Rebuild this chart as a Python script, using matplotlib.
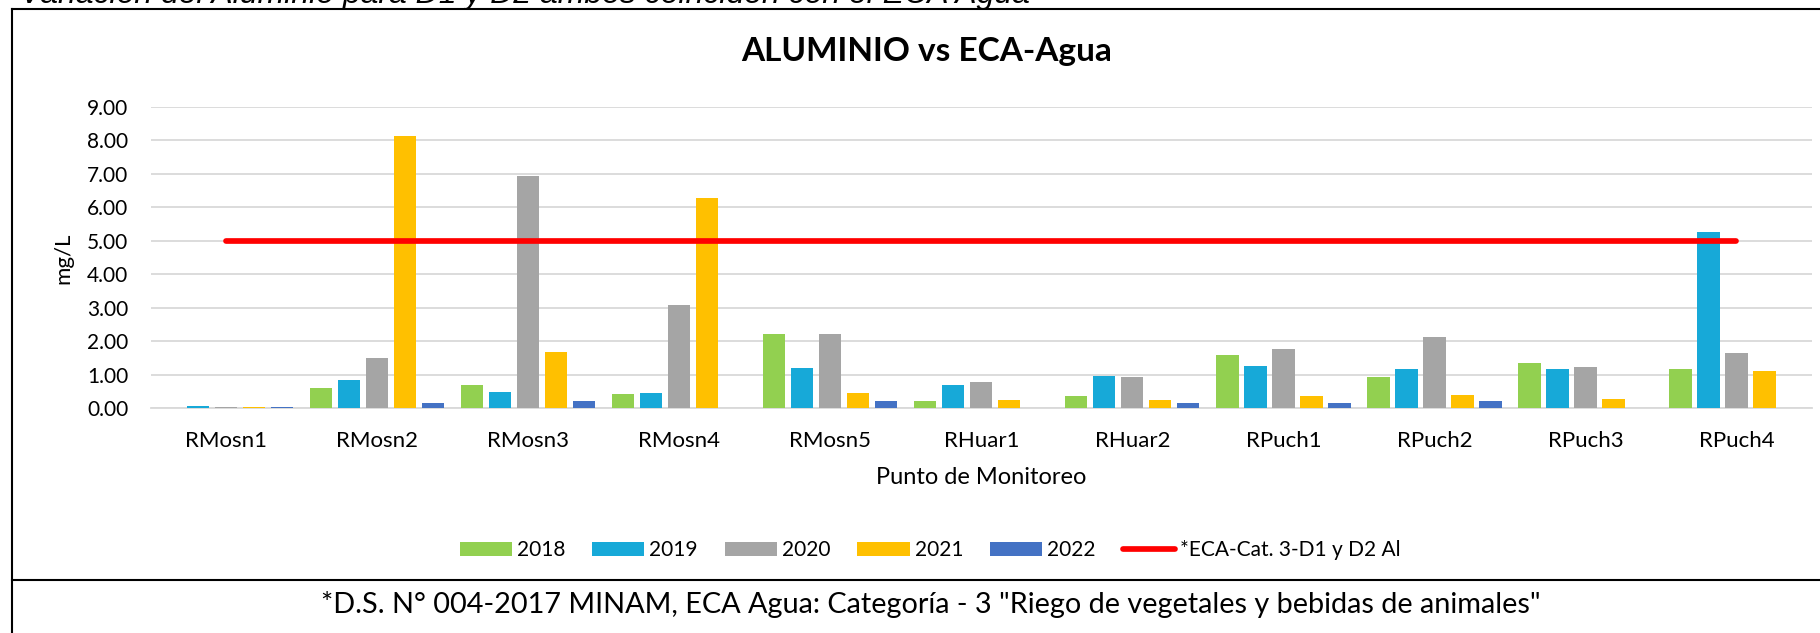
import matplotlib
matplotlib.use("Agg")
import matplotlib.pyplot as plt
from matplotlib.lines import Line2D
from matplotlib.patches import Patch
import numpy as np

categories = ["RMosn1", "RMosn2", "RMosn3", "RMosn4", "RMosn5", "RHuar1",
              "RHuar2", "RPuch1", "RPuch2", "RPuch3", "RPuch4"]
years = ["2018", "2019", "2020", "2021", "2022"]
v2018 = [0.00, 0.60, 0.71, 0.43, 2.23, 0.23, 0.37, 1.59, 0.93, 1.34, 1.18]
v2019 = [0.07, 0.83, 0.50, 0.45, 1.20, 0.71, 0.95, 1.26, 1.18, 1.18, 5.27]
v2020 = [0.03, 1.49, 6.94, 3.07, 2.23, 0.79, 0.93, 1.78, 2.14, 1.24, 1.66]
v2021 = [0.03, 8.13, 1.69, 6.27, 0.45, 0.25, 0.25, 0.37, 0.39, 0.27, 1.10]
v2022 = [0.03, 0.15, 0.21, 0.00, 0.23, 0.00, 0.15, 0.15, 0.21, 0.00, 0.00]
eca = [5.0] * len(categories)
eca_label = "*ECA-Cat. 3-D1 y D2 Al"
yticks = [0, 1, 2, 3, 4, 5, 6, 7, 8, 9]

series = [v2018, v2019, v2020, v2021, v2022]
colors = ["#92D050", "#17A9D8", "#A5A5A5", "#FFC000", "#4472C4"]

W, H = 1820, 633
fig = plt.figure(figsize=(W / 100, H / 100), dpi=100)
plt.rcParams['font.family'] = ['Lato', 'DejaVu Sans']

ax = fig.add_axes([150.7 / W, 1 - 408.3 / H, (1812 - 150.7) / W, (408.3 - 106.7) / H])
x = np.arange(len(categories))
step = 0.1854
bw = 0.147
for j, (vals, c) in enumerate(zip(series, colors)):
    ax.bar(x + (j - 2) * step, vals, width=bw, color=c, zorder=3, linewidth=0)
ax.plot(x, eca, color="#FF0000", lw=4.1, solid_capstyle="round", zorder=4)

ax.set_xlim(-0.5, len(categories) - 0.5)
ax.set_ylim(0, 9)
ax.set_yticks(yticks)
ax.set_yticklabels([f"{t:.2f}" for t in yticks], fontsize=15)
ax.set_xticks(x)
ax.set_xticklabels(categories, fontsize=16)
ax.tick_params(axis="both", length=0)
ax.tick_params(axis="y", pad=16)
ax.tick_params(axis="x", pad=16)
ax.grid(axis="y", color="#D9D9D9", lw=1.3, zorder=0)
for s in ["top", "right", "left"]:
    ax.spines[s].set_visible(False)
ax.spines["bottom"].set_color("#D9D9D9")
ax.spines["bottom"].set_linewidth(1.3)

fig.text(63 / W, 1 - 258 / H, "mg/L", rotation=90, ha="center", va="center", fontsize=16)
fig.text(981 / W, 1 - 478 / H, "Punto de Monitoreo", ha="center", va="center", fontsize=17)
fig.text(927 / W, 1 - 52 / H, "ALUMINIO vs ECA-Agua", ha="center", va="center",
         fontsize=24, fontweight="bold")

handles = [Patch(facecolor=c, edgecolor="none") for c in colors]
handles.append(Line2D([0], [0], color="#FF0000", lw=4.1, solid_capstyle="round"))
labels = years + [eca_label]
leg = fig.legend(handles, labels, ncol=6, loc="center",
                 bbox_to_anchor=(930 / W, 1 - 550 / H), frameon=False,
                 prop={"size": 15},
                 handlelength=2.5, handleheight=0.65, handletextpad=0.24,
                 columnspacing=1.3, borderpad=0, borderaxespad=0)

fig.text(931 / W, 1 - 604 / H,
         '*D.S. N° 004-2017 MINAM, ECA Agua: Categoría - 3 "Riego de vegetales y bebidas de animales"',
         ha="center", va="center", fontsize=20.8)

fig.text(20 / W, 1 - 3 / H,
         "Variación del Aluminio para D1 y D2 ambos coinciden con el ECA Agua",
         ha="left", va="baseline", fontsize=23, style="italic",
         family=["Liberation Sans", "DejaVu Sans"])

lw_frame = 1.5
fig.add_artist(Line2D([12 / W, 12 / W], [0, 1 - 9 / H], color="black", lw=lw_frame,
                      transform=fig.transFigure))
fig.add_artist(Line2D([12 / W, 1], [1 - 9 / H, 1 - 9 / H], color="black", lw=lw_frame,
                      transform=fig.transFigure))
fig.add_artist(Line2D([12 / W, 1], [1 - 580 / H, 1 - 580 / H], color="black", lw=lw_frame,
                      transform=fig.transFigure))

fig.savefig("out.png", dpi=100)
